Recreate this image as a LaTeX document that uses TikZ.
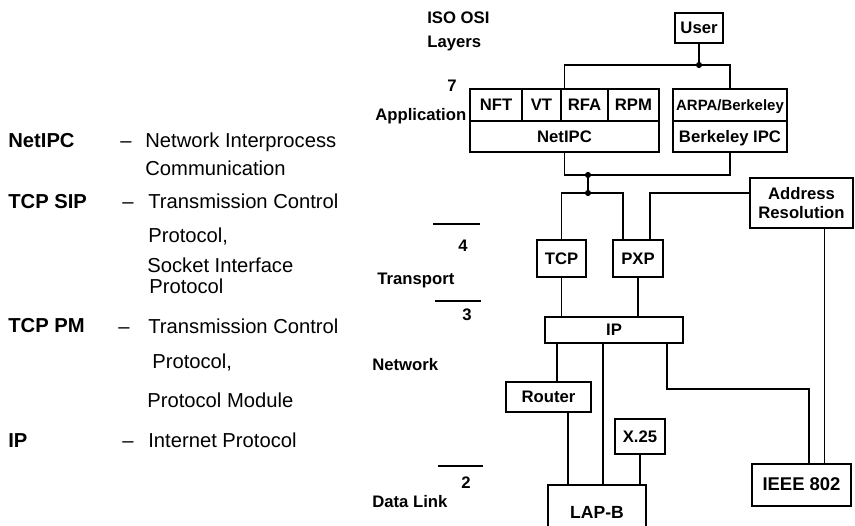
\documentclass[tikz,border=0pt]{standalone}
\usepackage{fontspec}
\setmainfont{Liberation Sans}
\usepackage{tikz}
\usetikzlibrary{positioning,calc}

\begin{document}
\begin{tikzpicture}[x=0.02cm, y=-0.02cm,
    box/.style={rectangle, draw=black, line width=0.8pt, fill=white, inner sep=1pt, outer sep=0pt, font=\fontsize{9.5}{11}\selectfont\bfseries},
    block/.style={box, text height=1.5ex, text depth=0.25ex},
    cell/.style={block, minimum height=0.64cm},
    layer/.style={inner sep=0pt, font=\fontsize{9.5}{11}\selectfont\bfseries},
    term/.style={anchor=west, inner sep=0pt, font=\fontsize{11.5}{13}\selectfont\bfseries, text height=1.5ex, text depth=0.25ex},
    desc/.style={anchor=west, inner sep=0pt, font=\fontsize{11.5}{13}\selectfont, text height=1.5ex, text depth=0.25ex},
    line/.style={draw=black, line width=0.8pt},
    dot/.style={circle, fill=black, inner sep=0pt, minimum size=3.5pt}]

    \useasboundingbox (0,0) rectangle (855,526);
    \clip (0,0) rectangle (855,526);

    % legend
    \node [term] (tnetipc) at (8,142) {NetIPC};
    \node [desc] (hnetipc) at (120,142) {--};
    \node [desc] (dnetipc1) at (145,142) {Network Interprocess};
    \node [desc] (dnetipc2) at (145,170) {Communication};
    \node [term] (tsip) at (8,203) {TCP SIP};
    \node [desc] (hsip) at (122,203) {--};
    \node [desc] (dsip1) at (148,203) {Transmission Control};
    \node [desc] (dsip2) at (148,237) {Protocol,};
    \node [desc] (dsip3) at (147,267) {Socket Interface};
    \node [desc] (dsip4) at (149,288) {Protocol};
    \node [term] (tpm) at (8,327) {TCP PM};
    \node [desc] (hpm) at (118,328) {--};
    \node [desc] (dpm1) at (148,328) {Transmission Control};
    \node [desc] (dpm2) at (152,363) {Protocol,};
    \node [desc] (dpm3) at (147,402) {Protocol Module};
    \node [term] (tip) at (8,442) {IP};
    \node [desc] (hip) at (122,442) {--};
    \node [desc] (dip) at (148,442) {Internet Protocol};

    % layers
    \node [layer, anchor=west, align=left, font=\fontsize{9.5}{13.6}\selectfont\bfseries] (iso) at (427,31) {ISO OSI\\Layers};
    \node [layer] (n7) at (452,86) {7};
    \node [layer, anchor=west] (lapp) at (375,116) {Application};
    \node [layer] (n4) at (463,246) {4};
    \node [layer, anchor=west] (ltrans) at (377,280) {Transport};
    \node [layer] (n3) at (467,315) {3};
    \node [layer, anchor=west] (lnet) at (372,365) {Network};
    \node [layer] (n2) at (466,483) {2};
    \node [layer, anchor=west] (llink) at (372,502) {Data Link};
    \draw [line] (433,224) -- (480,224);
    \draw [line] (435,301) -- (481,301);
    \draw [line] (438,466) -- (483,466);

    % boxes
    \node [block, minimum width=0.96cm, minimum height=0.6cm] (user) at (699,28) {User};
    \node [cell, minimum width=1.04cm] (nft) at (496,105) {NFT};
    \node [cell, minimum width=0.78cm, right=0pt of nft] (vt) {VT};
    \node [cell, minimum width=0.94cm, right=0pt of vt] (rfa) {RFA};
    \node [cell, minimum width=1.02cm, right=0pt of rfa] (rpm) {RPM};
    \node [cell, minimum width=3.78cm, minimum height=0.62cm, below=0pt of nft.south west, anchor=north west] (netipc) {NetIPC};
    \node [cell, minimum width=2.28cm, font=\fontsize{8.5}{10}\selectfont\bfseries] (arpa) at (730,105) {ARPA/Berkeley};
    \node [cell, minimum width=2.28cm, minimum height=0.62cm, below=0pt of arpa] (bkipc) {Berkeley IPC};
    \node [box, align=center, minimum width=2.06cm, minimum height=1.0cm] (addr) at (801.5,203) {Address\\Resolution};
    \node [block, minimum width=0.98cm, minimum height=0.74cm] (tcp) at (561.5,258.5) {TCP};
    \node [block, minimum width=1.0cm, minimum height=0.74cm] (pxp) at (638,258.5) {PXP};
    \node [block, minimum width=2.76cm, minimum height=0.52cm] (ip) at (614,330) {IP};
    \node [block, minimum width=1.7cm, minimum height=0.6cm] (router) at (548.5,397) {Router};
    \node [block, minimum width=1.0cm, minimum height=0.7cm] (x25) at (640,436.5) {X.25};
    \node [block, minimum width=1.96cm, minimum height=1.1cm, font=\fontsize{10}{12}\selectfont\bfseries] (lapb) at (597,512.5) {LAP-B};
    \node [block, minimum width=1.98cm, minimum height=0.84cm, font=\fontsize{10.5}{12}\selectfont\bfseries] (ieee) at (801.5,485) {IEEE 802};

    \coordinate (jtop) at (699,65);
    \coordinate (jmid) at (588,175);
    \coordinate (jlow) at (588,193);
    \coordinate (bend) at (667,389);

    \path [line] (user) -- (jtop);
    \path [line] (jtop) -| (netipc |- nft.north);
    \path [line] (jtop) -| (arpa.north);
    \path [line] (netipc.south) |- (jmid) -| (bkipc.south);
    \path [line] (jmid) -- (jlow);
    \path [line] (jlow) -| (tcp.north);
    \path [line] (jlow) -| ([xshift=-0.3cm]pxp.north);
    \path [line] ([yshift=0.2cm]addr.west) -| ([xshift=0.24cm]pxp.north);
    \path [line] ([xshift=0.46cm]addr.south) -- ([xshift=0.46cm]ieee.north);
    \path [line] (tcp.south) -- (tcp.south |- ip.north);
    \path [line] (pxp.south) -- (pxp.south |- ip.north);
    \path [line] ([xshift=0.17cm]router.north) -- ([xshift=0.17cm]router.north |- ip.south);
    \path [line] ([xshift=0.39cm]router.south) -- ([xshift=0.39cm]router.south |- lapb.north);
    \path [line] ([xshift=0.12cm]lapb.north) -- ([xshift=0.12cm]lapb.north |- ip.south);
    \path [line] (x25.south) -- (x25.south |- lapb.north);
    \path [line] (ip.south -| bend) -- (bend) -| ([xshift=0.15cm]ieee.north);

    \node [dot] (dtop) at (jtop) {};
    \node [dot] (dmid) at (jmid) {};
    \node [dot] (dlow) at (jlow) {};
  \end{tikzpicture}
\end{document}
